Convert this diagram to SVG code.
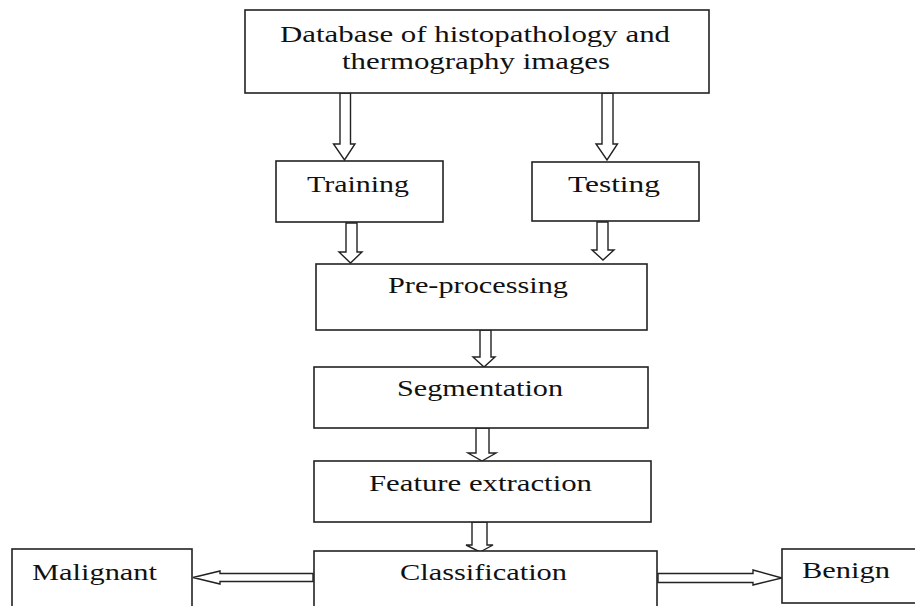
<svg xmlns="http://www.w3.org/2000/svg" width="915" height="606" viewBox="0 0 915 606">
<style>
.box{fill:#fff;stroke:#222;stroke-width:1.6}
.arr{fill:#fff;stroke:#222;stroke-width:1.4;stroke-linejoin:miter}
.t{font-family:"Liberation Serif","Times New Roman",serif;fill:#111;text-anchor:start}
</style>
<rect width="915" height="606" fill="#fff"/>
<g id="connectors">
<polygon class="arr" points="340,93 350.5,93 350.5,144 355,144 344.5,160 333.5,144 340,144"/>
<polygon class="arr" points="602,93 613,93 613,144 617.5,144 607,160 596,144 602,144"/>
<polygon class="arr" points="346,223 357,223 357,252 362,252 350.5,263 339,252 346,252"/>
<polygon class="arr" points="597,222 608,222 608,250 614,250 603,260 592,250 597,250"/>
<polygon class="arr" points="480,330 491,330 491,357 495,357 484,367 473,357 480,357"/>
<polygon class="arr" points="476,428 489,428 489,453 496,453 482,461 468,453 476,453"/>
<polygon class="arr" points="472,522 487,522 487,545 493,545 480,552 466,545 472,545"/>
<polygon class="arr" points="313,573.5 220,573.5 220,571 193,577.5 220,584 220,581.5 313,581.5"/>
<polygon class="arr" points="658,573.5 753,573.5 753,570 782,578 753,585 753,582.5 658,582.5"/>
</g>
<g id="database">
<rect class="box" x="245" y="10" width="464" height="83"/>
<text class="t" x="280" y="42" font-size="24" textLength="390" lengthAdjust="spacingAndGlyphs">Database of histopathology and</text>
<text class="t" x="342" y="69" font-size="24" textLength="268" lengthAdjust="spacingAndGlyphs">thermography images</text>
</g>
<g id="training">
<rect class="box" x="276" y="161" width="167" height="61"/>
<text class="t" x="307" y="192" font-size="24" textLength="102" lengthAdjust="spacingAndGlyphs">Training</text>
</g>
<g id="testing">
<rect class="box" x="532" y="162" width="167" height="59"/>
<text class="t" x="568" y="192" font-size="24" textLength="92" lengthAdjust="spacingAndGlyphs">Testing</text>
</g>
<g id="preprocessing">
<rect class="box" x="316" y="264" width="331" height="66"/>
<text class="t" x="388" y="293" font-size="24" textLength="180" lengthAdjust="spacingAndGlyphs">Pre-processing</text>
</g>
<g id="segmentation">
<rect class="box" x="314" y="367" width="334" height="61"/>
<text class="t" x="397" y="396" font-size="24" textLength="166" lengthAdjust="spacingAndGlyphs">Segmentation</text>
</g>
<g id="feature">
<rect class="box" x="314" y="461" width="337" height="61"/>
<text class="t" x="369" y="491" font-size="24" textLength="223" lengthAdjust="spacingAndGlyphs">Feature extraction</text>
</g>
<g id="classification">
<rect class="box" x="314" y="551" width="343" height="70"/>
<text class="t" x="400" y="580" font-size="24" textLength="167" lengthAdjust="spacingAndGlyphs">Classification</text>
</g>
<g id="malignant">
<rect class="box" x="12" y="549" width="180" height="70"/>
<text class="t" x="32" y="580" font-size="23" textLength="125" lengthAdjust="spacingAndGlyphs">Malignant</text>
</g>
<g id="benign">
<rect class="box" x="782" y="549" width="140" height="54"/>
<text class="t" x="802" y="578" font-size="23" textLength="88" lengthAdjust="spacingAndGlyphs">Benign</text>
</g>
</svg>
